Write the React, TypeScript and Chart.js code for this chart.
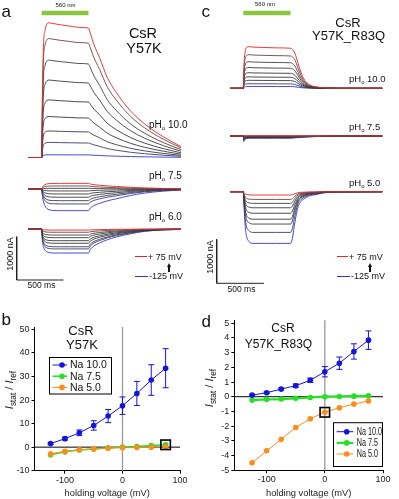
import React, { useEffect, useRef } from 'react';
import { Chart, registerables } from 'chart.js';
Chart.register(...registerables);

const FONT = '"Liberation Sans", Arial, Helvetica, sans-serif';
Chart.defaults.font.family = FONT;

// ---------------- photocurrent traces (panels a, c) ----------------
// step voltages, top (red) trace first, bottom (blue) trace last
const VOLTAGE_STEPS = [75, 50, 25, 0, -25, -50, -75, -100, -125];
const TRACE_COLORS = ['#e2262a', '#6b4444', '#4a4040', '#3c3c3c', '#383838', '#38383f', '#3a3a52', '#3c3c6c', '#3636d4'];

const LIGHT_ON_MS = 0;
const LIGHT_OFF_MS = 500;
const SCALE_BAR_MS = 500;
const SCALE_BAR_NA = 1000;

// panel a: time samples (ms) and normalised time courses
const TIME_A = [-145, 0, 8, 20, 35, 55, 80, 120, 200, 300, 400, 500, 520, 560, 620, 700, 800, 950, 1100, 1300, 1490];
const SHAPE_A_PH10 = [0, 0, 0.5, 0.88, 0.98, 1.03, 1.04, 1.035, 1.025, 1.015, 1.005, 1.0, 0.96, 0.87, 0.77, 0.62, 0.5, 0.36, 0.26, 0.16, 0.085];
const SHAPE_A_PH75 = [0, 0, 0.35, 0.6, 0.78, 0.9, 0.96, 0.99, 1.0, 1.0, 1.0, 1.0, 0.88, 0.76, 0.66, 0.55, 0.45, 0.3, 0.19, 0.1, 0.05];
const SHAPE_A_PH60 = [0, 0, 0.5, 0.75, 0.88, 0.95, 0.98, 1.0, 1.0, 1.0, 1.0, 1.0, 0.85, 0.7, 0.58, 0.45, 0.33, 0.2, 0.1, 0.04, 0.02];
// stationary amplitudes (nA) per step voltage
const AMP_A_PH10 = [2990, 2640, 2160, 1720, 1280, 910, 590, 335, 60];
const AMP_A_PH75 = [130, 70, 15, -45, -115, -190, -270, -345, -500];
const AMP_A_PH60 = [-25, -75, -140, -200, -270, -330, -410, -460, -555];

// panel c
const TIME_C = [-140, 0, 5, 10, 18, 25, 35, 60, 100, 200, 350, 500, 520, 545, 580, 610, 650, 700, 760, 860, 1000, 1470];
const SHAPE_C_PH10 = [0, 0, 0.4, 0.7, 0.9, 0.98, 1.02, 1.04, 1.03, 1.02, 1.01, 1.0, 0.97, 0.88, 0.62, 0.4, 0.2, 0.09, 0.04, 0.015, 0, 0];
const SHAPE_C_PH75 = [0, 0, 2.5, 2.0, 1.5, 1.3, 1.15, 1.0, 1.0, 1.0, 1.0, 1.0, 0.95, 0.85, 0.72, 0.62, 0.5, 0.38, 0.27, 0.15, 0.07, 0];
const SHAPE_C_PH50 = [0, 0, 0.2, 0.35, 0.61, 0.75, 0.87, 0.96, 1.0, 1.0, 1.0, 1.0, 0.9, 0.6, 0.29, 0.19, 0.13, 0.08, 0.06, 0.02, 0.005, 0];
const AMP_C_PH10 = [910, 735, 580, 455, 340, 250, 175, 100, 40];
const AMP_C_PH75 = [7, 0, -7, -14, -20, -27, -34, -41, -50];
const AMP_C_PH50 = [-75, -175, -265, -365, -490, -625, -735, -925, -1175];

// ---------------- I/V curves (panels b, d) ----------------
const HOLD_V = [-125, -100, -75, -50, -25, 0, 25, 50, 75];
const X_TICKS = [-100, 0, 100];
const B_Y_TICKS = [-10, 0, 10, 20, 30, 40, 50];
const D_Y_TICKS = [-5, -4, -3, -2, -1, 0, 1, 2, 3, 4, 5];

const B_NA100 = [1.5, 3.6, 6.1, 9.2, 13.2, 17.6, 22.8, 28.5, 33.5];
const B_NA100_ERR = [0.4, 0.6, 1.2, 2.0, 2.8, 3.7, 5.1, 6.5, 8.3];
const B_NA75 = [-3.2, -2.0, -1.2, -0.8, -0.4, 0.05, 0.3, 0.7, 1.0];
const B_NA50 = [-2.8, -1.8, -1.1, -0.7, -0.4, -0.25, -0.2, 0.0, 0.1];

const D_NA100 = [0.11, 0.27, 0.52, 0.75, 1.12, 1.7, 2.28, 3.08, 3.85];
const D_NA100_ERR = [0.05, 0.05, 0.07, 0.12, 0.15, 0.35, 0.42, 0.52, 0.63];
const D_NA75 = [-0.23, -0.18, -0.16, -0.11, -0.05, 0.0, 0.02, 0.04, 0.06];
const D_NA50 = [-4.5, -3.68, -2.9, -2.09, -1.5, -1.06, -0.75, -0.5, -0.29];

const SERIES_NAMES = ['Na 10.0', 'Na 7.5', 'Na 5.0'];
const BLUE = '#1414e0';
const GREEN = '#26e026';
const ORANGE = '#ff8c1c';
const LIGHT_GREEN = '#8cc63f';

// ---------------- layout ----------------
const A_LAYOUT = { w: 200, h: 300, onsetPx: 41.7, pxPerMs: 0.0935, pxPerNa: 0.0433, baselines: [157.5, 189, 229], lightPx: 13, corner: [16.7, 280] };
const C_LAYOUT = { w: 199, h: 300, onsetPx: 43.3, pxPerMs: 0.0945, pxPerNa: 0.044, baselines: [88.3, 136, 191.7], lightPx: 13, corner: [16.7, 283.3] };

function traceConfig(L: any, groups: any[]) {
  const xMin = -L.onsetPx / L.pxPerMs;
  const xMax = xMin + L.w / L.pxPerMs;
  const yMax = L.h / L.pxPerNa;
  const valAt = (px: number) => (L.h - px) / L.pxPerNa;
  const tAt = (px: number) => (px - L.onsetPx) / L.pxPerMs;
  const datasets: any[] = [];
  groups.forEach((g, gi) => {
    const base = valAt(L.baselines[gi]);
    g.amps.forEach((amp: number, k: number) => {
      datasets.push({
        label: `${VOLTAGE_STEPS[k]} mV`,
        data: g.time.map((t: number, i: number) => ({ x: t, y: base + amp * g.shape[i] })),
        borderColor: TRACE_COLORS[k],
        borderWidth: 0.9,
        pointRadius: 0,
        cubicInterpolationMode: 'monotone',
        fill: false,
      });
    });
  });
  const ly = valAt(L.lightPx);
  datasets.push({
    label: 'light',
    data: [{ x: LIGHT_ON_MS, y: ly }, { x: LIGHT_OFF_MS, y: ly }],
    borderColor: LIGHT_GREEN, borderWidth: 4.5, pointRadius: 0, borderCapStyle: 'butt',
  });
  const t0 = tAt(L.corner[0]);
  const v0 = valAt(L.corner[1]);
  datasets.push({
    label: 'scale',
    data: [{ x: t0, y: v0 + SCALE_BAR_NA }, { x: t0, y: v0 }, { x: t0 + SCALE_BAR_MS, y: v0 }],
    borderColor: '#222', borderWidth: 1, pointRadius: 0, tension: 0,
  });
  return {
    type: 'line',
    data: { datasets },
    options: {
      responsive: false, animation: false, devicePixelRatio: 1, events: [],
      layout: { padding: 0 },
      plugins: { legend: { display: false }, tooltip: { enabled: false } },
      scales: {
        x: { type: 'linear', min: xMin, max: xMax, display: false },
        y: { type: 'linear', min: 0, max: yMax, display: false },
      },
    },
  };
}

const ivPlugin = {
  id: 'ivMarks',
  beforeDatasetsDraw(chart: any, _a: any, opts: any) {
    const { ctx, chartArea: ca, scales } = chart;
    const x0 = scales.x.getPixelForValue(0);
    const y0 = scales.y.getPixelForValue(0);
    ctx.save();
    ctx.strokeStyle = '#9a9a9a';
    ctx.lineWidth = 1.3;
    ctx.beginPath(); ctx.moveTo(x0, ca.top); ctx.lineTo(x0, ca.bottom); ctx.stroke();
    ctx.strokeStyle = '#000';
    ctx.lineWidth = 1;
    ctx.beginPath(); ctx.moveTo(ca.left, y0); ctx.lineTo(ca.right, y0); ctx.stroke();
    (opts.errors || []).forEach((e: any) => {
      const ds = chart.data.datasets[e.datasetIndex];
      ctx.strokeStyle = ds.borderColor;
      ctx.lineWidth = 1;
      ds.data.forEach((p: any, i: number) => {
        const x = scales.x.getPixelForValue(p.x);
        const yt = scales.y.getPixelForValue(p.y + e.values[i]);
        const yb = scales.y.getPixelForValue(p.y - e.values[i]);
        ctx.beginPath();
        ctx.moveTo(x, yt); ctx.lineTo(x, yb);
        ctx.moveTo(x - 3, yt); ctx.lineTo(x + 3, yt);
        ctx.moveTo(x - 3, yb); ctx.lineTo(x + 3, yb);
        ctx.stroke();
      });
    });
    ctx.restore();
  },
  afterDatasetsDraw(chart: any, _a: any, opts: any) {
    const { ctx, scales } = chart;
    if (opts.refBox) {
      const p = chart.data.datasets[opts.refBox.datasetIndex].data[opts.refBox.index];
      const x = scales.x.getPixelForValue(p.x);
      const y = scales.y.getPixelForValue(p.y);
      const s = opts.refBox.size;
      ctx.save();
      ctx.strokeStyle = '#000';
      ctx.lineWidth = 1.6;
      ctx.strokeRect(x - s / 2, y - s / 2, s, s);
      ctx.restore();
    }
  },
  afterDraw(chart: any, _a: any, opts: any) {
    const L = opts.legend;
    if (!L) return;
    const { ctx } = chart;
    ctx.save();
    ctx.fillStyle = '#fff';
    ctx.fillRect(L.x, L.y, L.w, L.h);
    ctx.strokeStyle = '#000';
    ctx.lineWidth = 1;
    ctx.strokeRect(L.x, L.y, L.w, L.h);
    L.rows.forEach((r: any) => {
      const ds = chart.data.datasets[r.datasetIndex];
      ctx.strokeStyle = ds.borderColor;
      ctx.lineWidth = ds.borderWidth;
      ctx.beginPath(); ctx.moveTo(L.lineX0, r.y); ctx.lineTo(L.lineX1, r.y); ctx.stroke();
      ctx.fillStyle = ds.backgroundColor;
      ctx.beginPath(); ctx.arc(L.markX, r.y, 2.8, 0, Math.PI * 2); ctx.fill();
      ctx.fillStyle = '#111';
      ctx.font = `${L.fontSize}px ${FONT}`;
      ctx.textBaseline = 'middle';
      ctx.textAlign = 'left';
      ctx.save();
      ctx.translate(L.textX, r.y + 0.5);
      ctx.scale(L.textScaleX, 1);
      ctx.fillText(ds.label, 0, 0);
      ctx.restore();
    });
    ctx.restore();
  },
};

function ivConfig(cfg: any) {
  const mk = (label: string, vals: number[], color: string, width: number) => ({
    label,
    data: HOLD_V.map((v, i) => ({ x: v, y: vals[i] })),
    borderColor: color, backgroundColor: color, borderWidth: width,
    pointRadius: 2.8, pointBorderWidth: 0, pointBackgroundColor: color, tension: 0,
  });
  const datasets = [
    mk(SERIES_NAMES[0], cfg.na100, BLUE, 1),
    mk(SERIES_NAMES[2], cfg.na50, ORANGE, 1),
    mk(SERIES_NAMES[1], cfg.na75, GREEN, cfg.greenWidth),
  ];
  const axisCommon = {
    type: 'linear',
    grid: { display: true, drawOnChartArea: false, drawTicks: true, tickLength: 3, tickColor: '#000', tickWidth: 1 },
    border: { display: true, color: '#000', width: 1 },
  };
  return {
    type: 'line',
    data: { datasets },
    plugins: [ivPlugin],
    options: {
      responsive: false, animation: false, devicePixelRatio: 1, events: [],
      layout: { padding: { top: cfg.padTop, right: cfg.padRight, left: 0, bottom: 0 } },
      plugins: {
        legend: { display: false }, tooltip: { enabled: false },
        ivMarks: { errors: [{ datasetIndex: 0, values: cfg.err }], refBox: cfg.refBox, legend: cfg.legend },
      },
      scales: {
        x: {
          ...axisCommon, position: 'bottom', min: cfg.xMin, max: 100,
          afterBuildTicks: (s: any) => { s.ticks = X_TICKS.map((v) => ({ value: v })); },
          afterFit: (s: any) => { s.height = cfg.xAxisH; },
          ticks: { font: { size: 9 }, color: '#222', padding: 1, maxRotation: 0, autoSkip: false },
          title: { display: true, text: 'holding voltage (mV)', font: { size: 9.3 }, color: '#222', padding: 0 },
        },
        y: {
          ...axisCommon, position: 'left', min: cfg.yMin, max: cfg.yMax,
          afterBuildTicks: (s: any) => { s.ticks = cfg.yTicks.map((v: number) => ({ value: v })); },
          afterFit: (s: any) => { s.width = cfg.yAxisW; },
          ticks: { font: { size: 9 }, color: '#222', padding: 2, autoSkip: false },
        },
      },
    },
  };
}

function Txt({ x, base, size, align = 'left', children, style }: any) {
  return (
    <div style={{
      position: 'absolute', left: x, top: base - 0.8465 * size, fontSize: size, lineHeight: 1,
      whiteSpace: 'nowrap', transform: align === 'center' ? 'translateX(-50%)' : undefined, ...style,
    }}>{children}</div>
  );
}

function VTxt({ cx, cy, size, children }: any) {
  return (
    <div style={{
      position: 'absolute', left: cx, top: cy, fontSize: size, lineHeight: 1, whiteSpace: 'nowrap',
      transform: 'translate(-50%, -50%) rotate(-90deg)',
    }}>{children}</div>
  );
}

function PH({ x, base, size, value }: any) {
  return (
    <Txt x={x} base={base} size={size}>
      pH<span style={{ fontSize: '0.62em', verticalAlign: '-0.3em' }}>o</span> {value}
    </Txt>
  );
}

function HLine({ x0, x1, y, color }: any) {
  return <div style={{ position: 'absolute', left: x0, top: y - 0.5, width: x1 - x0, height: 1, background: color }} />;
}

function Arrow({ cx, top, bottom }: any) {
  return (
    <>
      <div style={{ position: 'absolute', left: cx - 0.75, top: top + 3, width: 1.5, height: bottom - top - 3, background: '#111' }} />
      <div style={{ position: 'absolute', left: cx - 2.5, top, width: 0, height: 0, borderLeft: '2.5px solid transparent', borderRight: '2.5px solid transparent', borderBottom: '4px solid #111' }} />
    </>
  );
}

const IstatTitle = () => (
  <span><i>I</i><sub style={{ fontSize: '0.75em' }}>stat</sub> / <i>I</i><sub style={{ fontSize: '0.75em' }}>ref</sub></span>
);

export default function App() {
  const aRef = useRef<HTMLCanvasElement>(null);
  const cRef = useRef<HTMLCanvasElement>(null);
  const bRef = useRef<HTMLCanvasElement>(null);
  const dRef = useRef<HTMLCanvasElement>(null);

  useEffect(() => {
    const charts: Chart[] = [];
    charts.push(new Chart(aRef.current as any, traceConfig(A_LAYOUT, [
      { time: TIME_A, shape: SHAPE_A_PH10, amps: AMP_A_PH10 },
      { time: TIME_A, shape: SHAPE_A_PH75, amps: AMP_A_PH75 },
      { time: TIME_A, shape: SHAPE_A_PH60, amps: AMP_A_PH60 },
    ]) as any));
    charts.push(new Chart(cRef.current as any, traceConfig(C_LAYOUT, [
      { time: TIME_C, shape: SHAPE_C_PH10, amps: AMP_C_PH10 },
      { time: TIME_C, shape: SHAPE_C_PH75, amps: AMP_C_PH75 },
      { time: TIME_C, shape: SHAPE_C_PH50, amps: AMP_C_PH50 },
    ]) as any));
    charts.push(new Chart(bRef.current as any, ivConfig({
      na100: B_NA100, na75: B_NA75, na50: B_NA50, err: B_NA100_ERR, greenWidth: 1.5,
      xMin: -153, yMin: -10, yMax: 51, yTicks: B_Y_TICKS,
      padTop: 17, padRight: 20, xAxisH: 28.3, yAxisW: 34.5,
      refBox: { datasetIndex: 2, index: 8, size: 9.5 },
      legend: { x: 49.5, y: 47.5, w: 62, h: 36.5, lineX0: 52.5, lineX1: 67, markX: 62, textX: 70, fontSize: 10.5, textScaleX: 1,
        rows: [{ datasetIndex: 0, y: 55 }, { datasetIndex: 2, y: 66.2 }, { datasetIndex: 1, y: 77.4 }] },
    }) as any));
    charts.push(new Chart(dRef.current as any, ivConfig({
      na100: D_NA100, na75: D_NA75, na50: D_NA50, err: D_NA100_ERR, greenWidth: 2.2,
      xMin: -155.6, yMin: -5, yMax: 5.2, yTicks: D_Y_TICKS,
      padTop: 10.3, padRight: 16, xAxisH: 28.8, yAxisW: 34.3,
      refBox: { datasetIndex: 1, index: 5, size: 9.5 },
      legend: { x: 133.5, y: 112.7, w: 49, h: 43.8, lineX0: 136.7, lineX1: 153.3, markX: 146.7, textX: 156.7, fontSize: 10, textScaleX: 0.72,
        rows: [{ datasetIndex: 0, y: 121.7 }, { datasetIndex: 2, y: 132.9 }, { datasetIndex: 1, y: 144 }] },
    }) as any));
    return () => charts.forEach((c) => c.destroy());
  }, []);

  return (
    <div style={{ position: 'absolute', left: 0, top: 0, width: 399, height: 499, background: '#fff', overflow: 'hidden', fontFamily: FONT, color: '#111' }}>
      <canvas ref={aRef} width={200} height={300} style={{ position: 'absolute', left: 0, top: 0, width: 200, height: 300 }} />
      <canvas ref={cRef} width={199} height={300} style={{ position: 'absolute', left: 200, top: 0, width: 199, height: 300 }} />
      <canvas ref={bRef} width={200} height={189} style={{ position: 'absolute', left: 0, top: 310, width: 200, height: 189 }} />
      <canvas ref={dRef} width={199} height={189} style={{ position: 'absolute', left: 200, top: 310, width: 199, height: 189 }} />

      {/* panel letters */}
      <Txt x={1.5} base={17} size={17}>a</Txt>
      <Txt x={201.5} base={17} size={17}>c</Txt>
      <Txt x={1.5} base={325} size={17}>b</Txt>
      <Txt x={201.5} base={327} size={17}>d</Txt>

      {/* light labels */}
      <Txt x={65.5} base={7} size={6} align="center">560 nm</Txt>
      <Txt x={265} base={6.3} size={6} align="center">560 nm</Txt>

      {/* construct titles */}
      <Txt x={143} base={38} size={14.5} align="center">CsR</Txt>
      <Txt x={144} base={53} size={14.5} align="center">Y57K</Txt>
      <Txt x={348} base={27} size={13} align="center">CsR</Txt>
      <Txt x={348.5} base={40} size={13} align="center">Y57K_R83Q</Txt>
      <Txt x={81} base={335} size={13} align="center">CsR</Txt>
      <Txt x={82} base={349} size={13} align="center">Y57K</Txt>
      <Txt x={283} base={332} size={12} align="center">CsR</Txt>
      <Txt x={278.5} base={348} size={12} align="center">Y57K_R83Q</Txt>

      {/* pH labels */}
      <PH x={149} base={128} size={10} value="10.0" />
      <PH x={149} base={179.5} size={10} value="7.5" />
      <PH x={149} base={220.5} size={10} value="6.0" />
      <PH x={349} base={82.5} size={9.5} value="10.0" />
      <PH x={349} base={130} size={9.5} value="7.5" />
      <PH x={349} base={186.5} size={9.5} value="5.0" />

      {/* scale bar labels */}
      <VTxt cx={10} cy={254} size={9}>1000 nA</VTxt>
      <Txt x={41.5} base={288.5} size={8.5} align="center">500 ms</Txt>
      <VTxt cx={209.7} cy={256.5} size={9}>1000 nA</VTxt>
      <Txt x={241.5} base={292.5} size={8.5} align="center">500 ms</Txt>

      {/* voltage legends */}
      <HLine x0={135} x1={147} y={256.7} color={TRACE_COLORS[0]} />
      <Txt x={148} base={260.5} size={9}>+ 75 mV</Txt>
      <Arrow cx={169} top={263} bottom={272} />
      <HLine x0={135} x1={148} y={276} color={TRACE_COLORS[8]} />
      <Txt x={149} base={279.5} size={9}>-125 mV</Txt>

      <HLine x0={337} x1={348} y={256.7} color={TRACE_COLORS[0]} />
      <Txt x={349} base={260.5} size={9}>+ 75 mV</Txt>
      <Arrow cx={370} top={263} bottom={272} />
      <HLine x0={337} x1={350} y={276} color={TRACE_COLORS[8]} />
      <Txt x={351} base={279.5} size={9}>-125 mV</Txt>

      {/* y axis titles */}
      <VTxt cx={11} cy={390} size={11}><IstatTitle /></VTxt>
      <VTxt cx={211} cy={388} size={11}><IstatTitle /></VTxt>
    </div>
  );
}
